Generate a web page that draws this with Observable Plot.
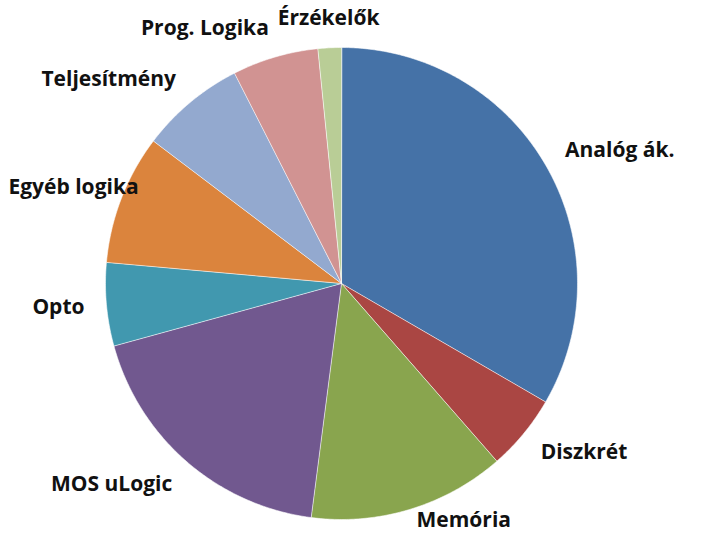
<!DOCTYPE html>
<html>
<head>
<meta charset="utf-8">
<script src="https://cdn.jsdelivr.net/npm/d3@7"></script>
<script src="https://cdn.jsdelivr.net/npm/@observablehq/plot@0.6"></script>
<style>
  html, body { margin: 0; padding: 0; background: #fff; }
  #chart svg { display: block; }
</style>
</head>
<body>
<div id="chart"></div>
<script>
const categories = ["Analóg ák.", "Diszkrét", "Memória", "MOS uLogic", "Opto", "Egyéb logika", "Teljesítmény", "Prog. Logika", "Érzékelők"];
const shares = [33.4, 5.2, 13.5, 18.7, 5.7, 8.9, 7.2, 5.9, 1.6];
const colors = ["#4572A7", "#AA4643", "#89A54E", "#71588F", "#4198AF", "#DB843D", "#93A9CF", "#D19392", "#B9CD96"];

const W = 701, H = 538;
const cx = 341, cy = 283, R = 236;
const FONT = "'Open Sans', Lato, sans-serif";
const FSIZE = 21;

// pie layout (clockwise from 12 o'clock)
const pie = d3.pie().sort(null).value(d => d.value)(categories.map((c, i) => ({name: c, value: shares[i]})));

// slice outlines in a centred coordinate system (y up)
const polys = [];
pie.forEach(p => {
  const n = Math.max(2, Math.ceil((p.endAngle - p.startAngle) / 0.01));
  polys.push({name: p.data.name, x: 0, y: 0});
  for (let j = 0; j <= n; j++) {
    const a = p.startAngle + (p.endAngle - p.startAngle) * j / n;
    polys.push({name: p.data.name, x: R * Math.sin(a), y: R * Math.cos(a)});
  }
});

// labels: just outside each slice's mid-angle, kept inside the frame
const ctx = document.createElement("canvas").getContext("2d");
ctx.font = `bold ${FSIZE}px ${FONT}`;
const labels = pie.map(p => {
  const a = (p.startAngle + p.endAngle) / 2;
  const s = Math.sin(a), c = Math.cos(a);
  const rr = R + 22;
  const x = rr * s;
  let y = rr * c + c * 8;
  const w = ctx.measureText(p.data.name).width;
  let left;
  if (s > 0.25) left = x; else if (s < -0.25) left = x - w; else left = x - w / 2;
  left = Math.max(8 - cx, Math.min(W - cx - 4 - w, left));
  y = Math.max(-(H - cy) + 18, Math.min(cy - 16, y));
  return {name: p.data.name, x: left + w / 2, y};
});

const chart = Plot.plot({
  width: W,
  height: H,
  margin: 0,
  x: {domain: [-cx, W - cx], axis: null},
  y: {domain: [-(H - cy), cy], axis: null},
  color: {domain: categories, range: colors},
  style: {background: "#fff"},
  marks: [
    Plot.line(polys, {x: "x", y: "y", z: "name", fill: "name", stroke: "#ffffff", strokeWidth: 0.8, strokeOpacity: 0.7, curve: "linear-closed"}),
    Plot.text(labels, {x: "x", y: "y", text: "name", fontSize: FSIZE, fontWeight: "bold", fontFamily: FONT, fill: "#111", textAnchor: "middle", lineAnchor: "middle"})
  ]
});
document.getElementById("chart").appendChild(chart);
</script>
</body>
</html>
